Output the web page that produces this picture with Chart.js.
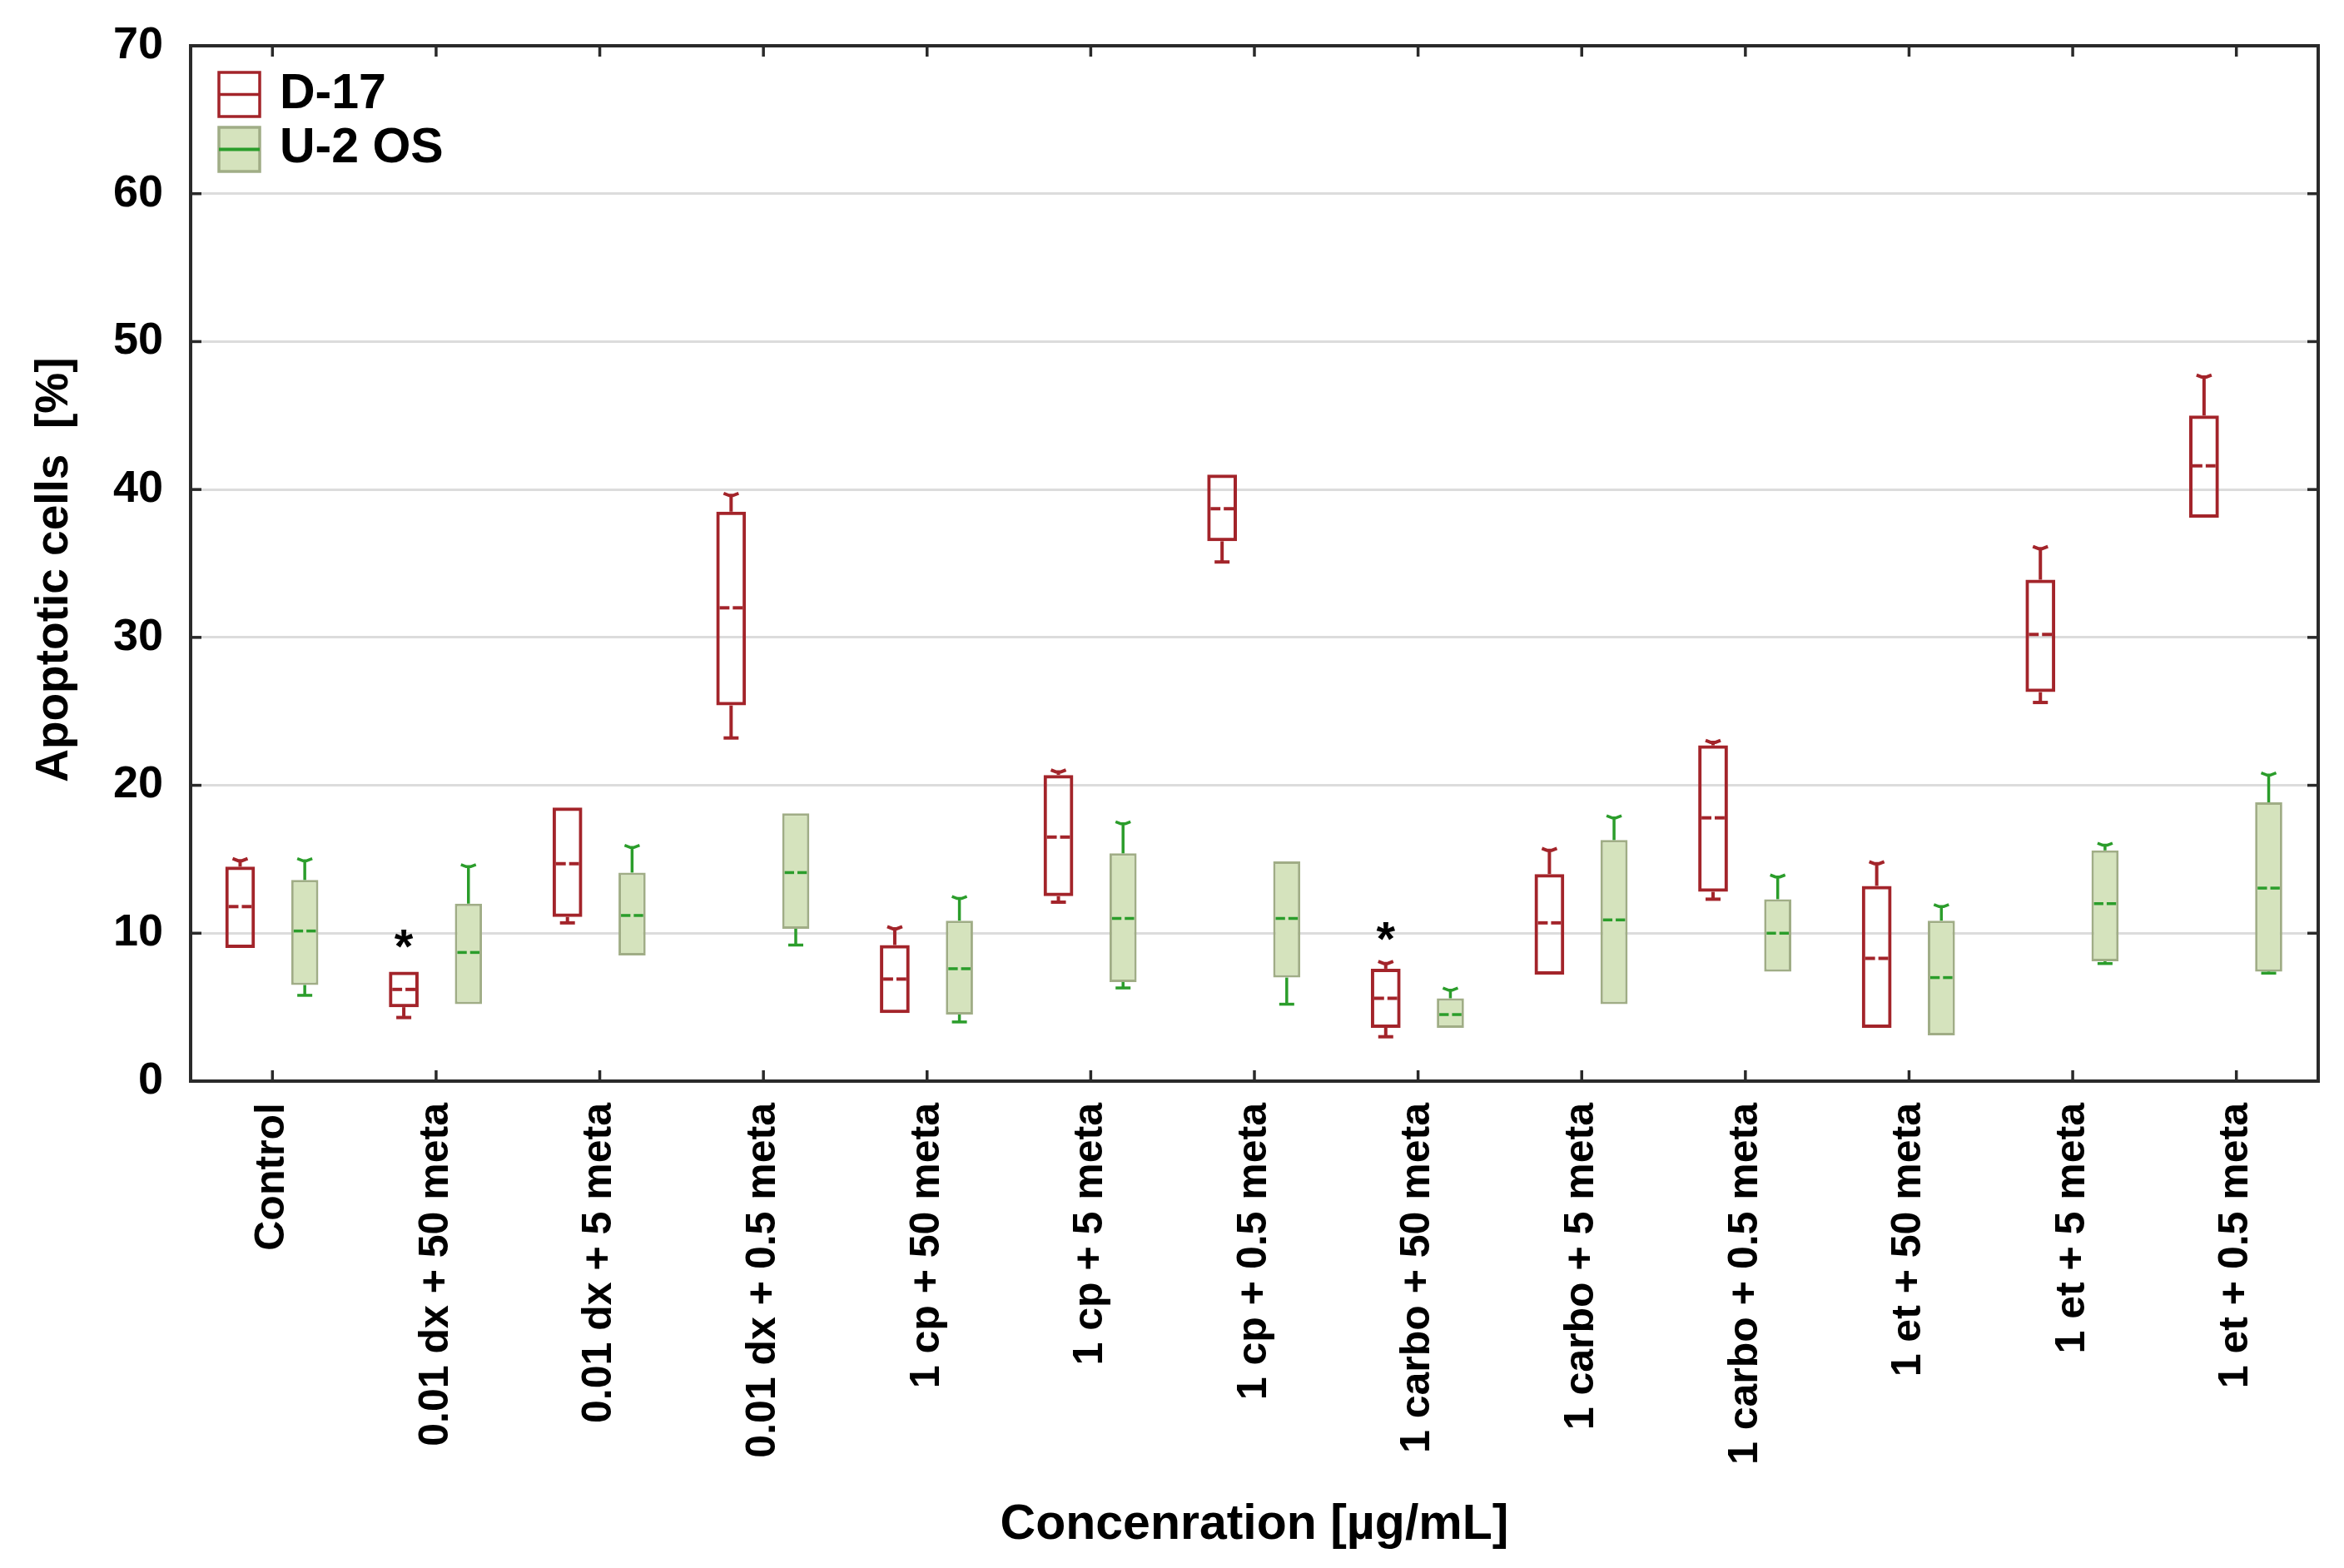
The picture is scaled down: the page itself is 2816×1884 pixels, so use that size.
<!DOCTYPE html>
<html><head><meta charset="utf-8">
<script src="https://cdn.jsdelivr.net/npm/chart.js@4"></script>
<style>html,body{margin:0;padding:0;background:#fff}#wrap{width:2816px;height:1884px;position:relative;background:#fff}</style>
</head><body><div id="wrap"><canvas id="c"></canvas></div>
<script>
// ---------- data ----------
const categories = ['Control','0.01 dx + 50 meta','0.01 dx + 5 meta','0.01 dx + 0.5 meta','1 cp + 50 meta','1 cp + 5 meta','1 cp + 0.5 meta','1 carbo + 50 meta','1 carbo + 5 meta','1 carbo + 0.5 meta','1 et + 50 meta','1 et + 5 meta','1 et + 0.5 meta'];
const seriesNames = ['D-17','U-2 OS'];
const d17Min    = [9.0, 4.3, 10.7, 23.2, 4.6, 12.1, 35.1, 3.0, 7.2, 12.3, 3.6, 25.6, 38.1];
const d17Q1     = [9.0, 5.0, 11.1, 25.4, 4.6, 12.5, 36.5, 3.6, 7.2, 12.8, 3.6, 26.3, 38.1];
const d17Median = [11.8, 6.2, 14.7, 32.0, 6.9, 16.5, 38.7, 5.6, 10.7, 17.8, 8.3, 30.2, 41.6];
const d17Q3     = [14.5, 7.4, 18.5, 38.5, 9.2, 20.7, 41.0, 7.6, 14.0, 22.7, 13.2, 33.9, 45.0];
const d17Max    = [14.9, 7.4, 18.5, 39.6, 10.3, 20.9, 41.0, 7.95, 15.6, 22.9, 14.7, 36.0, 47.6];
const u2Min     = [5.8, 5.2, 8.5, 9.2, 4.0, 6.3, 5.2, 3.6, 5.2, 7.4, 3.1, 7.95, 7.3];
const u2Q1      = [6.5, 5.2, 8.5, 10.3, 4.5, 6.7, 7.0, 3.6, 5.2, 7.4, 3.1, 8.1, 7.4];
const u2Median  = [10.15, 8.7, 11.2, 14.1, 7.6, 11.0, 11.0, 4.5, 10.9, 10.0, 7.0, 12.0, 13.05];
const u2Q3      = [13.6, 12.0, 14.1, 18.1, 10.85, 15.4, 14.85, 5.6, 16.3, 12.3, 10.85, 15.6, 18.85];
const u2Max     = [14.9, 14.5, 15.8, 18.1, 12.35, 17.4, 14.85, 6.15, 17.8, 13.8, 11.8, 15.95, 20.7];
const asteriskIdx = [1, 7];           // D-17 groups marked with *
const yTicks = [0, 10, 20, 30, 40, 50, 60, 70];
const yTitle = 'Apoptotic cells  [%] ';
const xTitle = 'Concenration [µg/mL]';

// ---------- styles ----------
const FONT = '"Liberation Sans", Arial, Helvetica, sans-serif';
const RED = '#a3242a';
const GREEN_FILL = '#d5e3bd';
const GREEN_EDGE = '#a0ad86';
const GREEN_LINE = '#2b9d2b';

const stats = [
  {min:d17Min, q1:d17Q1, med:d17Median, q3:d17Q3, max:d17Max, line:RED, edge:RED, fill:'rgba(255,255,255,0)', lw:4},
  {min:u2Min, q1:u2Q1, med:u2Median, q3:u2Q3, max:u2Max, line:GREEN_LINE, edge:GREEN_EDGE, fill:GREEN_FILL, lw:3.5}
];

function seg(ctx, x1, y1, x2, y2){ ctx.beginPath(); ctx.moveTo(x1,y1); ctx.lineTo(x2,y2); ctx.stroke(); }

const boxPlugin = {
  id: 'boxExtras',
  afterDatasetsDraw(chart){
    const ctx = chart.ctx, ys = chart.scales.y;
    chart.data.datasets.forEach((ds, di) => {
      const meta = chart.getDatasetMeta(di), s = stats[di];
      meta.data.forEach((bar, i) => {
        const x = bar.x, w = bar.width, L = x - w/2, R = x + w/2;
        const pq1 = ys.getPixelForValue(s.q1[i]), pq3 = ys.getPixelForValue(s.q3[i]);
        const pmin = ys.getPixelForValue(s.min[i]), pmax = ys.getPixelForValue(s.max[i]);
        const pmed = ys.getPixelForValue(s.med[i]);
        ctx.save();
        ctx.strokeStyle = s.line; ctx.lineWidth = s.lw; ctx.lineCap = 'butt'; ctx.lineJoin = 'round';
        const cw = 9;
        if (pmax < pq3 - 1) {
          seg(ctx, x, pq3, x, pmax);
          ctx.beginPath();
          ctx.moveTo(x - cw, pmax - 2.5); ctx.lineTo(x - 2.5, pmax); ctx.lineTo(x + 2.5, pmax); ctx.lineTo(x + cw, pmax - 2.5);
          ctx.stroke();
        }
        if (pmin > pq1 + 1) { seg(ctx, x, pq1, x, pmin); seg(ctx, x - cw, pmin, x + cw, pmin); }
        const gap = 2;
        const inset = di === 0 ? 4 : 3;
        seg(ctx, L + inset, pmed, x - gap, pmed);
        seg(ctx, x + gap, pmed, R - inset, pmed);
        ctx.restore();
      });
      if (di === 0) {
        ctx.save();
        ctx.fillStyle = '#000'; ctx.font = 'bold 58px ' + FONT;
        ctx.textAlign = 'center'; ctx.textBaseline = 'middle';
        asteriskIdx.forEach(i => {
          const bar = meta.data[i];
          ctx.fillText('*', bar.x, ys.getPixelForValue(s.max[i]) - 26);
        });
        ctx.restore();
      }
    });
  },
  afterDraw(chart){
    const ctx = chart.ctx, a = chart.chartArea, xs = chart.scales.x, ys = chart.scales.y;
    ctx.save();
    ctx.strokeStyle = '#2a2a2a'; ctx.lineWidth = 4;
    ctx.strokeRect(a.left, a.top, a.right - a.left, a.bottom - a.top);
    ctx.lineWidth = 3.5;
    const tl = 13;
    xs.ticks.forEach((t, i) => {
      const px = xs.getPixelForTick(i);
      seg(ctx, px, a.bottom, px, a.bottom - tl);
      seg(ctx, px, a.top, px, a.top + tl);
    });
    ys.ticks.forEach((t, i) => {
      const py = ys.getPixelForTick(i);
      seg(ctx, a.left, py, a.left + tl, py);
      seg(ctx, a.right, py, a.right - tl, py);
    });
    // legend (inside plot, top-left)
    const lx = a.left + 34, iw = 49, ih = 53;
    const rows = [a.top + 32, a.top + 98];
    const baselines = [a.top + 75, a.top + 140];
    chart.data.datasets.forEach((ds, di) => {
      const s = stats[di], top = rows[di];
      ctx.fillStyle = di === 0 ? '#fff' : GREEN_FILL;
      ctx.fillRect(lx, top, iw, ih);
      ctx.strokeStyle = s.edge; ctx.lineWidth = 3.5;
      ctx.strokeRect(lx, top, iw, ih);
      ctx.strokeStyle = s.line; ctx.lineWidth = di === 0 ? 3.5 : 4;
      seg(ctx, lx, top + ih/2, lx + iw, top + ih/2);
      ctx.fillStyle = '#000'; ctx.font = 'bold 59px ' + FONT;
      ctx.textAlign = 'left'; ctx.textBaseline = 'alphabetic';
      ctx.fillText(ds.label, lx + iw + 24, baselines[di]);
    });
    ctx.restore();
  }
};

const datasets = seriesNames.map((name, di) => ({
  label: name,
  data: categories.map((c, i) => [stats[di].q1[i], stats[di].q3[i]]),
  backgroundColor: stats[di].fill,
  borderColor: stats[di].edge,
  borderWidth: di === 0 ? 4 : 3,
  borderSkipped: false,
  categoryPercentage: 0.79,
  barPercentage: di === 0 ? 0.46 : 0.42
}));

new Chart(document.getElementById('c'), {
  type: 'bar',
  data: { labels: categories, datasets },
  options: {
    responsive: true, maintainAspectRatio: false, animation: false, devicePixelRatio: 1,
    layout: { padding: { left: 0, right: 31, top: 55, bottom: 0 } },
    plugins: { legend: { display: false }, tooltip: { enabled: false } },
    scales: {
      x: {
        grid: { display: false, drawTicks: false },
        border: { display: false },
        ticks: { autoSkip: false, maxRotation: 90, minRotation: 90, padding: 26, color: '#000', font: { family: FONT, size: 50, weight: 'bold' } },
        title: { display: true, text: xTitle, color: '#000', font: { family: FONT, size: 59, weight: 'bold' }, padding: { top: 0, bottom: 16 } },
        afterFit: s => { s.height = 585; s.paddingLeft = 0; s.paddingRight = 0; }
      },
      y: {
        min: 0, max: 70,
        afterBuildTicks: s => { s.ticks = yTicks.map(v => ({ value: v })); },
        grid: { color: '#dcdcdc', lineWidth: 3, drawTicks: false },
        border: { display: false },
        ticks: { padding: 33, color: '#000', font: { family: FONT, size: 54, weight: 'bold' } },
        title: { display: true, text: yTitle, color: '#000', font: { family: FONT, size: 55, weight: 'bold' }, padding: { top: 33, bottom: 0 } },
        afterFit: s => { s.width = 229; s.paddingTop = 0; s.paddingBottom = 0; }
      }
    }
  },
  plugins: [boxPlugin]
});
</script>
</body></html>
